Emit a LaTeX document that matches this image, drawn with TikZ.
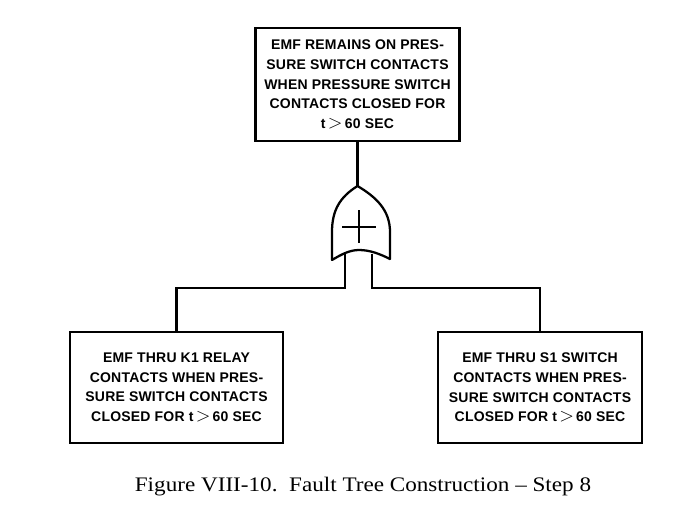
\documentclass[tikz,border=0pt]{standalone}
\usepackage{fontspec}
\setmainfont{Liberation Serif}
\newfontfamily\boxfont[LetterSpace=1.5]{Liberation Sans}
\newfontfamily\capfont[FakeStretch=1.12,Ligatures=TeX]{Liberation Serif}
\usetikzlibrary{positioning,calc}
\newcommand{\gtr}{\,{\fontsize{15}{15}\selectfont$>$}\,}

\begin{document}
\begin{tikzpicture}[x=0.75pt,y=-0.75pt,
    event/.style={rectangle,draw=black,line width=1.9pt,align=center,
        font=\boxfont\bfseries\fontsize{10.5}{14.8}\selectfont,inner sep=0pt},
    wire/.style={line width=1.9pt,black},
    gateline/.style={line width=1.7pt,black,line join=round},
   ]
    \useasboundingbox (0,0) rectangle (695,525);

    % top event
    \node (top) [event,minimum width=204*0.75pt,minimum height=113*0.75pt] at (357.5,84.5)
        {EMF REMAINS ON PRES-\\SURE SWITCH CONTACTS\\WHEN PRESSURE SWITCH\\CONTACTS CLOSED FOR\\t\gtr60 SEC};

    % lower events
    \node (k1) [event,minimum width=213*0.75pt,minimum height=111*0.75pt] at (176.5,387.5)
        {EMF THRU K1 RELAY\\CONTACTS WHEN PRES-\\SURE SWITCH CONTACTS\\CLOSED FOR t\gtr60 SEC};
    \node (s1) [event,minimum width=204*0.75pt,minimum height=111*0.75pt] at (540,387.5)
        {EMF THRU S1 SWITCH\\CONTACTS WHEN PRES-\\SURE SWITCH CONTACTS\\CLOSED FOR t\gtr60 SEC};

    % or gate
    \coordinate (gate_top) at (357.5,186);
    \coordinate (gate_l) at (345,254);
    \coordinate (gate_r) at (372,254);
    \coordinate (bus) at (358,288);
    \draw[gateline] (gate_top)
        .. controls (340,197) and (332,210) .. (332,232) -- (332,260)
        .. controls (342,254) and (350,250) .. (359,250)
        .. controls (370,250) and (380,254) .. (390,259) -- (390,232)
        .. controls (390,210) and (376,197) .. (gate_top) -- cycle;
    \draw[gateline] (342,227) -- (376,227) (359,210) -- (359,243);

    % connectors
    \draw[wire] (top.south) -- (gate_top);
    \draw[wire] (gate_l) -- (gate_l |- bus) -| (k1.north);
    \draw[wire] (gate_r) -- (gate_r |- bus) -| (s1.north);

    \node (caption) [font=\capfont\fontsize{15.5}{18}\selectfont] at (363,487)
        {Figure VIII-10.\ \ Fault Tree Construction -- Step 8};
\end{tikzpicture}
\end{document}
